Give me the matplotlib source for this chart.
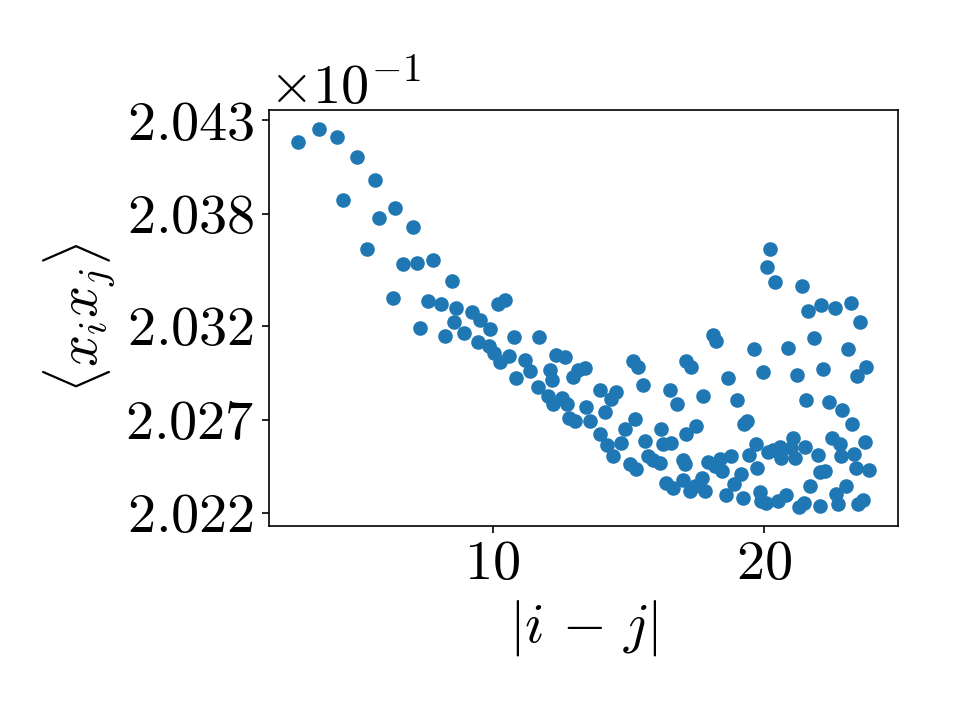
import matplotlib
matplotlib.use("Agg")
import matplotlib.pyplot as plt
from matplotlib.ticker import ScalarFormatter

plt.rcParams.update({
    "mathtext.fontset": "cm",
    "font.family": "serif",
    "font.serif": ["cmr10", "DejaVu Serif"],
    "axes.formatter.use_mathtext": True,
    "axes.unicode_minus": True,
})

# separation |i-j| and correlation <x_i x_j>
sep = [
    2.820, 3.605, 4.267, 4.488, 4.993, 5.361, 5.655, 5.814, 6.318, 6.414,
    6.697, 7.077, 7.202, 7.323, 7.636, 7.802, 8.085, 8.244, 8.520, 8.575,
    8.641, 8.943, 9.249, 9.470, 9.525, 9.901, 9.882, 10.066, 10.206, 10.464,
    10.287, 10.611, 10.784, 10.851, 11.189, 11.373, 11.668, 11.716, 12.047, 12.110,
    12.202, 12.231, 12.356, 12.680, 12.559, 12.754, 12.817, 13.049, 12.968, 13.152,
    13.398, 13.446, 13.594, 13.951, 13.951, 14.164, 14.208, 14.440, 14.356, 14.540,
    14.750, 14.871, 15.055, 15.166, 15.287, 15.258, 15.350, 15.545, 15.608, 15.729,
    15.913, 16.160, 16.222, 16.281, 16.406, 16.528, 16.590, 16.639, 16.815, 17.017,
    17.007, 17.080, 17.117, 17.143, 17.265, 17.327, 17.448, 17.485, 17.714, 17.743,
    17.817, 17.938, 18.122, 18.185, 18.247, 18.395, 18.442, 18.616, 18.675, 18.799,
    18.884, 19.013, 19.142, 19.227, 19.253, 19.363, 19.448, 19.639, 19.706, 19.731,
    19.842, 19.897, 20.081, 19.963, 20.118, 20.147, 20.236, 20.331, 20.405, 20.516,
    20.578, 20.641, 20.825, 20.898, 21.068, 20.983, 21.130, 21.233, 21.296, 21.399,
    21.462, 21.517, 21.561, 21.620, 21.683, 21.837, 21.988, 22.051, 22.051, 22.113,
    22.172, 22.235, 22.389, 22.518, 22.614, 22.666, 22.725, 22.798, 22.850, 22.887,
    23.034, 23.111, 23.218, 23.266, 23.339, 23.387, 23.432, 23.461, 23.560, 23.645,
    23.726, 23.770, 23.892,
]
corr = [
    0.204184, 0.204255, 0.204209, 0.203877, 0.204103, 0.203611, 0.203983, 0.203780, 0.203352, 0.203830,
    0.203533, 0.203732, 0.203538, 0.203190, 0.203334, 0.203554, 0.203317, 0.203149, 0.203439, 0.203222,
    0.203296, 0.203161, 0.203278, 0.203116, 0.203233, 0.203183, 0.203091, 0.203058, 0.203319, 0.203341,
    0.203007, 0.203038, 0.203142, 0.202925, 0.203018, 0.202960, 0.202874, 0.203142, 0.202827, 0.202963,
    0.202910, 0.202783, 0.203048, 0.203036, 0.202816, 0.202781, 0.202707, 0.202690, 0.202928, 0.202964,
    0.202976, 0.202765, 0.202694, 0.202860, 0.202621, 0.202738, 0.202563, 0.202507, 0.202812, 0.202846,
    0.202575, 0.202651, 0.202462, 0.203013, 0.202438, 0.202702, 0.202980, 0.202883, 0.202588, 0.202504,
    0.202482, 0.202467, 0.202651, 0.202571, 0.202363, 0.202860, 0.202575, 0.202336, 0.202781, 0.202378,
    0.202485, 0.202462, 0.202625, 0.203013, 0.202319, 0.202982, 0.202345, 0.202666, 0.202390, 0.202824,
    0.202319, 0.202471, 0.203150, 0.202453, 0.203120, 0.202488, 0.202426, 0.202297, 0.202924, 0.202504,
    0.202355, 0.202804, 0.202410, 0.202278, 0.202676, 0.202695, 0.202513, 0.203077, 0.202570, 0.202442,
    0.202313, 0.202262, 0.202254, 0.202955, 0.203515, 0.202525, 0.203610, 0.202539, 0.203434, 0.202265,
    0.202552, 0.202493, 0.202294, 0.203085, 0.202604, 0.202547, 0.202493, 0.202939, 0.202232, 0.203416,
    0.202256, 0.202553, 0.202803, 0.203280, 0.202343, 0.203135, 0.202512, 0.202421, 0.202238, 0.203311,
    0.202973, 0.202424, 0.202796, 0.202604, 0.203296, 0.202301, 0.202251, 0.202570, 0.202507, 0.202753,
    0.202343, 0.203077, 0.203326, 0.202675, 0.202514, 0.202442, 0.202932, 0.202251, 0.203222, 0.202272,
    0.202578, 0.202980, 0.202430,
]
ytick_vals = [0.2022, 0.2027, 0.2032, 0.2038, 0.2043]

fig = plt.figure(figsize=(961 / 150, 721 / 150), dpi=150)
ax = fig.add_axes([0.280, 0.2705, 0.6545, 0.577])

ax.scatter(sep, corr)

ax.set_yticks(ytick_vals)
fmt = ScalarFormatter(useMathText=True)
fmt.set_powerlimits((0, 0))
ax.yaxis.set_major_formatter(fmt)
ax.yaxis.get_offset_text().set_fontsize(27)

ax.set_xlabel(r"$|i\,-\,j|$", fontsize=27)
ax.set_ylabel(r"$\langle x_i x_j \rangle$", fontsize=27)
ax.tick_params(labelsize=27)

fig.savefig("out.png", dpi=150)
